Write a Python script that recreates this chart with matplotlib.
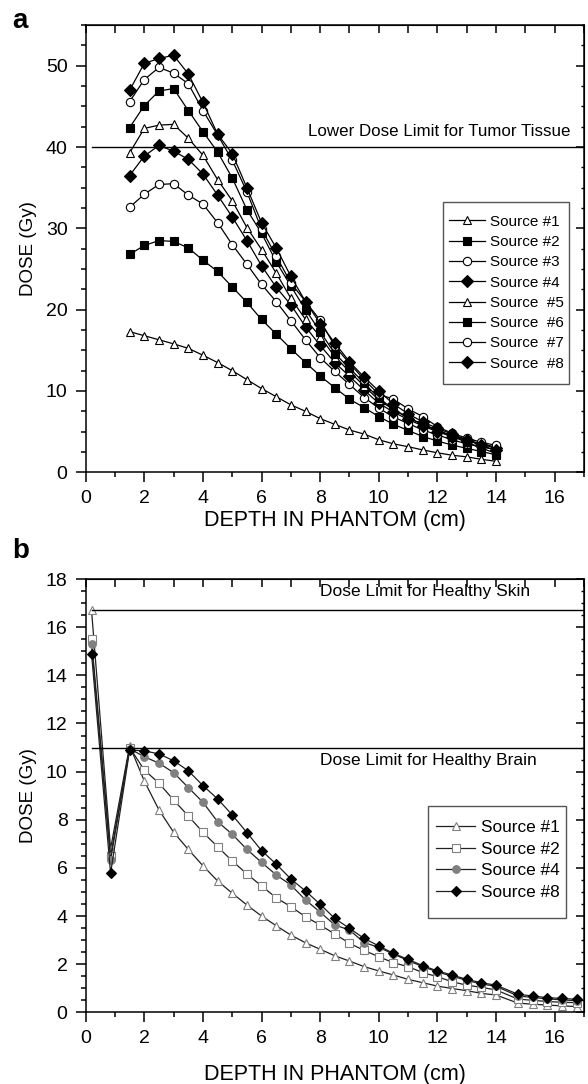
import matplotlib
matplotlib.use('Agg')
import matplotlib.pyplot as plt
from matplotlib.ticker import MultipleLocator
from matplotlib.patches import Rectangle

plt.rcParams['font.family'] = ['Liberation Sans', 'DejaVu Sans']

# ---- panel a: dose to tumour, eight sources ----
depth_a = [1.5, 2.0, 2.5, 3.0, 3.5, 4.0, 4.5, 5.0, 5.5, 6.0, 6.5, 7.0, 7.5,
           8.0, 8.5, 9.0, 9.5, 10.0, 10.5, 11.0, 11.5, 12.0, 12.5, 13.0, 13.5, 14.0]
src1_a = [17.3, 16.8, 16.3, 15.8, 15.25, 14.4, 13.5, 12.5, 11.4, 10.3, 9.3, 8.3, 7.5,
          6.6, 5.9, 5.2, 4.7, 4.0, 3.5, 3.15, 2.75, 2.4, 2.1, 1.9, 1.6, 1.35]
src2_a = [26.8, 27.9, 28.5, 28.4, 27.6, 26.1, 24.7, 22.8, 20.9, 18.8, 17.0, 15.2, 13.5,
          11.85, 10.4, 9.0, 7.95, 6.85, 5.9, 5.15, 4.4, 3.85, 3.35, 2.95, 2.55, 2.15]
src3_a = [32.6, 34.2, 35.4, 35.5, 34.1, 33.0, 30.7, 28.0, 25.6, 23.1, 21.0, 18.65, 16.3,
          14.1, 12.4, 10.8, 9.2, 7.9, 6.8, 6.0, 5.2, 4.6, 4.0, 3.5, 3.1, 2.8]
src4_a = [36.5, 38.9, 40.2, 39.5, 38.5, 36.7, 34.1, 31.4, 28.5, 25.4, 22.75, 20.6, 17.9,
          15.6, 13.5, 11.8, 10.1, 8.5, 7.4, 6.5, 5.7, 5.0, 4.4, 3.9, 3.4, 3.0]
src5_a = [39.3, 42.3, 42.7, 42.8, 41.1, 39.0, 36.0, 33.4, 30.1, 27.4, 24.5, 21.4, 18.8,
          16.7, 14.2, 12.4, 10.6, 8.9, 7.7, 6.7, 5.9, 5.2, 4.5, 4.0, 3.5, 3.1]
src6_a = [42.4, 45.1, 46.9, 47.2, 44.5, 41.9, 39.4, 36.2, 32.3, 29.4, 25.9, 22.9, 20.0,
          17.3, 14.6, 12.8, 11.0, 9.1, 7.8, 6.7, 5.9, 5.1, 4.4, 3.7, 3.0, 2.3]
src7_a = [45.6, 48.3, 49.8, 49.1, 47.8, 44.5, 41.5, 38.4, 34.5, 29.9, 26.6, 23.3, 21.0,
          18.7, 15.5, 13.4, 11.4, 9.6, 9.0, 7.8, 6.85, 5.6, 4.8, 4.2, 3.7, 3.3]
src8_a = [47.0, 50.3, 50.9, 51.3, 49.0, 45.5, 41.6, 39.2, 35.0, 30.7, 27.6, 24.1, 21.0,
          18.3, 15.9, 13.6, 11.7, 10.0, 8.4, 7.2, 6.2, 5.4, 4.7, 4.0, 3.3, 2.7]
labels_a = ['Source #1', 'Source #2', 'Source #3', 'Source #4',
            'Source  #5', 'Source  #6', 'Source  #7', 'Source  #8']
tumor_limit = 40.0

# ---- panel b: dose to healthy tissue, four sources ----
depth_b = [0.2, 0.85, 1.5, 2.0, 2.5, 3.0, 3.5, 4.0, 4.5, 5.0, 5.5, 6.0, 6.5, 7.0, 7.5,
           8.0, 8.5, 9.0, 9.5, 10.0, 10.5, 11.0, 11.5, 12.0, 12.5, 13.0, 13.5, 14.0,
           14.75, 15.25, 15.75, 16.25, 16.75]
src1_b = [16.7, 6.8, 11.08, 9.61, 8.41, 7.48, 6.77, 6.09, 5.46, 4.95, 4.46, 4.0, 3.6, 3.21,
          2.89, 2.62, 2.35, 2.13, 1.9, 1.72, 1.55, 1.37, 1.23, 1.09, 0.99, 0.9, 0.79, 0.72,
          0.38, 0.34, 0.30, 0.27, 0.24]
src2_b = [15.5, 6.5, 11.0, 10.07, 9.52, 8.82, 8.16, 7.48, 6.88, 6.29, 5.75, 5.25, 4.76, 4.39,
          3.97, 3.63, 3.25, 2.87, 2.57, 2.31, 2.06, 1.9, 1.65, 1.48, 1.27, 1.13, 1.04, 0.93,
          0.55, 0.5, 0.45, 0.42, 0.4]
src4_b = [15.3, 6.33, 10.95, 10.62, 10.35, 9.96, 9.34, 8.73, 7.92, 7.4, 6.77, 6.23, 5.71, 5.29,
          4.67, 4.16, 3.63, 3.42, 2.9, 2.7, 2.42, 2.15, 1.9, 1.68, 1.5, 1.33, 1.18, 1.08,
          0.68, 0.62, 0.56, 0.52, 0.48]
src8_b = [14.9, 5.78, 10.9, 10.86, 10.74, 10.45, 10.04, 9.42, 8.87, 8.2, 7.47, 6.72, 6.16, 5.54,
          5.04, 4.49, 3.9, 3.49, 3.07, 2.76, 2.45, 2.2, 1.94, 1.72, 1.55, 1.37, 1.23, 1.13,
          0.75, 0.68, 0.61, 0.58, 0.54]
labels_b = ['Source #1', 'Source #2', 'Source #4', 'Source #8']
skin_limit = 16.7
brain_limit = 11.0

TICK_FS = 14
LABEL_FS = 15.5
YLABEL_FS = 13.5

W, H = 588, 1084  # figure size in px, used for placing the frame boxes


def fx(px):
    return px / W


def fy(py):
    return 1 - py / H


def style_axes(ax, ymax, ymajor, yminor, xlabelpad):
    ax.set_xlim(0, 17)
    ax.set_ylim(0, ymax)
    ax.xaxis.set_major_locator(MultipleLocator(2))
    ax.xaxis.set_minor_locator(MultipleLocator(1))
    ax.yaxis.set_major_locator(MultipleLocator(ymajor))
    ax.yaxis.set_minor_locator(MultipleLocator(yminor))
    ax.tick_params(which='major', direction='out', length=7, width=1.1,
                   labelsize=TICK_FS, pad=6)
    ax.tick_params(which='minor', direction='out', length=3.5, width=1.1)
    for s in ax.spines.values():
        s.set_linewidth(1.1)

    # inward ticks on the top and right frame
    top = ax.secondary_xaxis('top')
    top.xaxis.set_major_locator(MultipleLocator(2))
    top.xaxis.set_minor_locator(MultipleLocator(1))
    top.tick_params(which='both', direction='in', length=6, width=1.1, labeltop=False)
    right = ax.secondary_yaxis('right')
    right.yaxis.set_major_locator(MultipleLocator(ymajor))
    right.yaxis.set_minor_locator(MultipleLocator(yminor))
    right.tick_params(which='major', direction='in', length=6, width=1.1, labelright=False)
    right.tick_params(which='minor', direction='in', length=2.5, width=1.0)

    ax.set_xlabel('DEPTH IN PHANTOM (cm)', fontsize=LABEL_FS, labelpad=xlabelpad)
    ax.set_ylabel('DOSE (Gy)', fontsize=YLABEL_FS, labelpad=6)


fig = plt.figure(figsize=(5.88, 10.84), dpi=100)
ax_a = fig.add_axes([0.1457, 0.5643, 0.8475, 0.4125])
ax_b = fig.add_axes([0.1457, 0.0661, 0.8475, 0.3997])

# panel a
series_a = [src1_a, src2_a, src3_a, src4_a, src5_a, src6_a, src7_a, src8_a]
markers_a = ['^', 's', 'o', 'D', '^', 's', 'o', 'D']
for vals, m, lab in zip(series_a, markers_a, labels_a):
    filled = m in ('s', 'D')
    ax_a.plot(depth_a, vals, color='black', lw=0.9, marker=m,
              ms=6.5 if m == 'D' else 6,
              mfc='black' if filled else 'white', mec='black', mew=0.8, label=lab)
ax_a.plot([0.2, 17], [tumor_limit, tumor_limit], color='black', lw=1.0)
ax_a.text(7.6, 41.9, 'Lower Dose Limit for Tumor Tissue', fontsize=12.2, va='center')
style_axes(ax_a, 55, 10, 2.5, 2)
ax_a.legend(loc='upper left', bbox_to_anchor=(fx(449), fy(221.5 - 6.7)),
            bbox_transform=fig.transFigure, fontsize=11, frameon=False,
            labelspacing=0.41, handlelength=2.33, handletextpad=0.33,
            borderpad=0, borderaxespad=0)
fig.add_artist(Rectangle((fx(442.7), fy(384.3)), fx(569.3) - fx(442.7), fy(202.5) - fy(384.3),
                         transform=fig.transFigure, fill=False, ec='#555555', lw=1.0))

# panel b
series_b = [src1_b, src2_b, src4_b, src8_b]
styles_b = [('^', 'white', '#808080'), ('s', 'white', '#808080'),
            ('o', '#808080', '#808080'), ('D', 'black', 'black')]
for vals, (m, fc, ec), lab in zip(series_b, styles_b, labels_b):
    ax_b.plot(depth_b, vals, color='#202020', lw=0.9, marker=m, ms=5.5,
              mfc=fc, mec=ec, mew=0.8, label=lab)
ax_b.plot([0.2, 17], [skin_limit, skin_limit], color='black', lw=1.0)
ax_b.plot([0.2, 17], [brain_limit, brain_limit], color='black', lw=1.0)
ax_b.text(8.0, 17.47, 'Dose Limit for Healthy Skin', fontsize=12.5, va='center')
ax_b.text(8.0, 10.45, 'Dose Limit for Healthy Brain', fontsize=12.5, va='center')
style_axes(ax_b, 18, 2, 0.5, 12)
ax_b.legend(loc='upper left', bbox_to_anchor=(fx(436), fy(827.7 - 7.5)),
            bbox_transform=fig.transFigure, fontsize=12.4, frameon=False,
            labelspacing=0.37, handlelength=2.27, handletextpad=0.33,
            borderpad=0, borderaxespad=0)
fig.add_artist(Rectangle((fx(427.7), fy(918.3)), fx(565.7) - fx(427.7), fy(806) - fy(918.3),
                         transform=fig.transFigure, fill=False, ec='#555555', lw=1.0))

fig.text(fx(12), fy(8), 'a', fontsize=20, fontweight='bold', va='top')
fig.text(fx(12), fy(538), 'b', fontsize=20, fontweight='bold', va='top')

fig.savefig('out.png', dpi=100)
